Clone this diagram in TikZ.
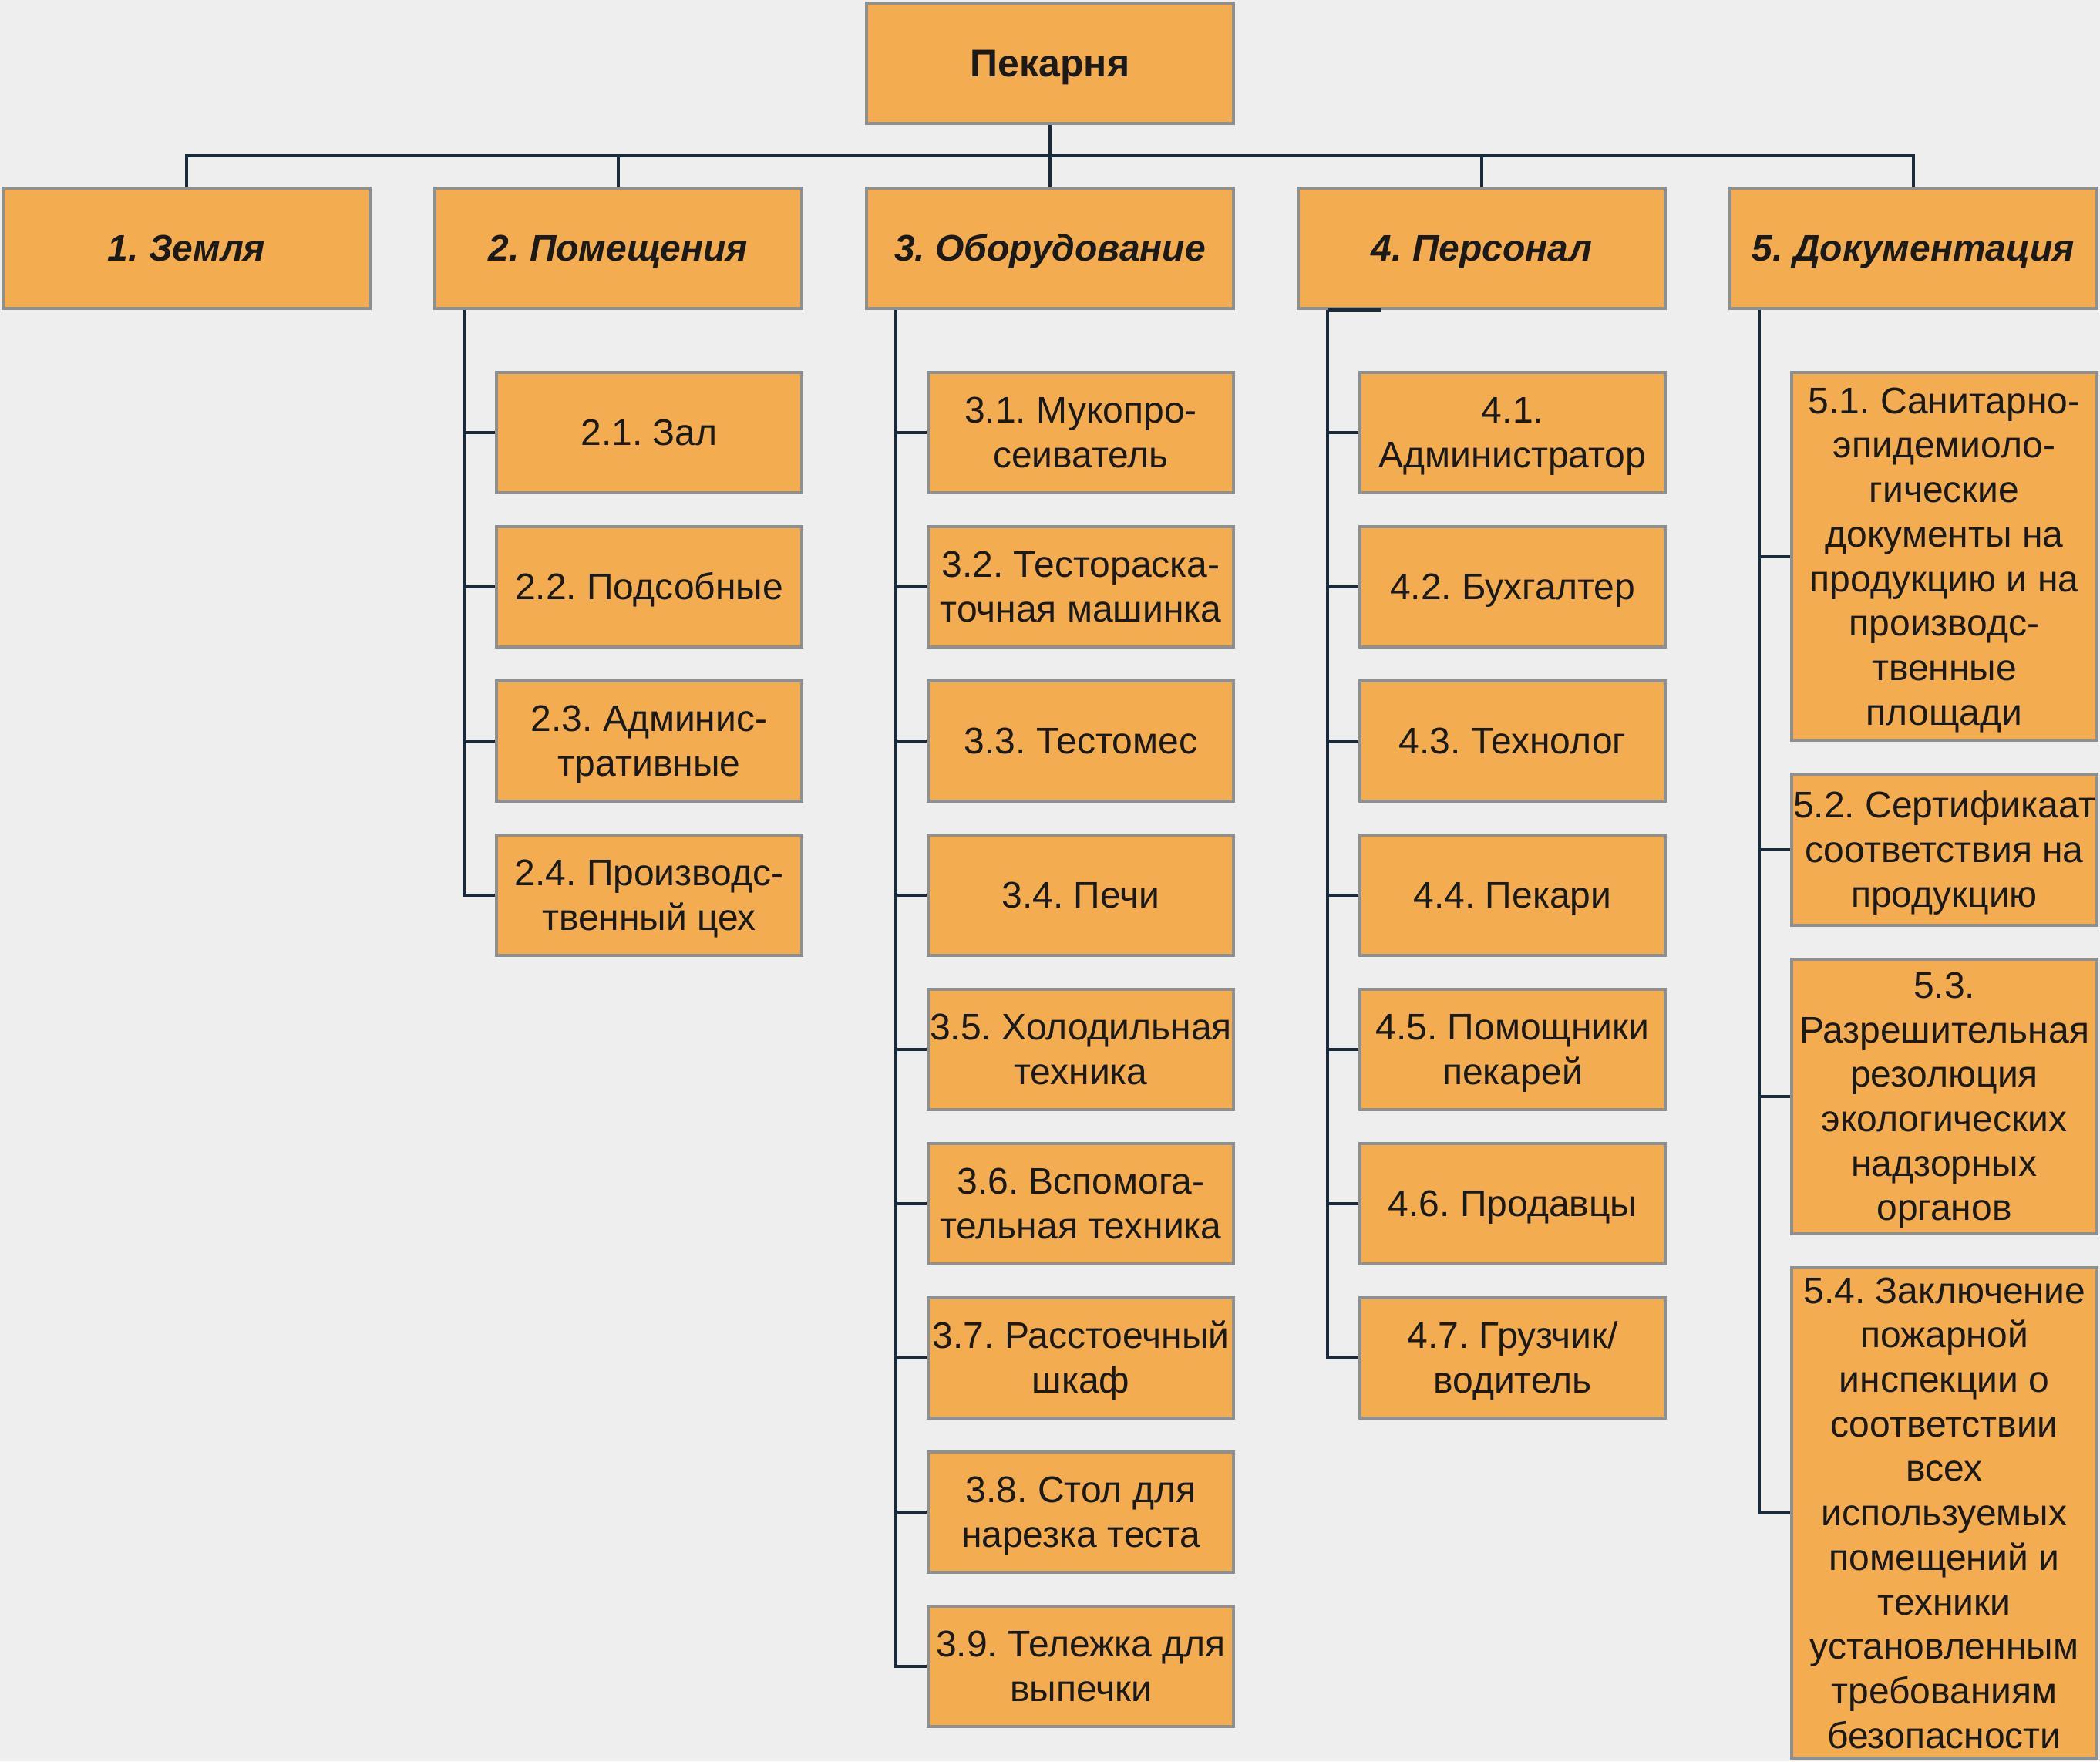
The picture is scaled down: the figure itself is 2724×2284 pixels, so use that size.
\documentclass[tikz,border=0pt]{standalone}
\usepackage{fontspec}
\setmainfont{Liberation Sans}
\definecolor{bg}{RGB}{238,238,238}
\definecolor{boxfill}{RGB}{244,172,80}
\definecolor{boxline}{RGB}{143,143,143}
\definecolor{connc}{RGB}{27,42,58}
\definecolor{txt}{RGB}{26,26,26}
\newcommand{\lstr}{\rule[-0.254em]{0pt}{1.202em}}
\begin{document}
\frenchspacing
\begin{tikzpicture}[x=1pt,y=-1pt,
  box/.style={draw=boxline, line width=4pt, fill=boxfill, text=txt, align=center,
    inner sep=0pt, font=\fontsize{48}{57.7}\selectfont\frenchspacing,
    execute at end node=\lstr},
  headbox/.style={box, minimum width=476pt, minimum height=156pt,
    font=\fontsize{48}{57.7}\selectfont\frenchspacing\bfseries\itshape},
  rootbox/.style={box, minimum width=476pt, minimum height=156pt,
    font=\fontsize{50}{60}\selectfont\bfseries},
  kidbox/.style={box, minimum width=396pt, minimum height=156pt},
  conn/.style={draw=connc, line width=4pt}]
\useasboundingbox (0,0) rectangle (2724,2284);
\fill[bg] (0,0) rectangle (2724,2284);

% root and level 1
\node[rootbox] (root) at (1362,82) {Пекарня};
\node[headbox] (L1) at (242,321.5) {1. Земля};
\node[headbox] (L2) at (802,321.5) {2. Помещения};
\node[headbox] (L3) at (1362,321.5) {3. Оборудование};
\node[headbox] (L4) at (1922,321.5) {4. Персонал};
\node[headbox] (L5) at (2482,321.5) {5. Документация};

% column 2
\node[kidbox] (c21) at (842,561) {2.1. Зал};
\node[kidbox] (c22) at (842,761) {2.2. Подсобные};
\node[kidbox] (c23) at (842,961) {\lstr 2.3. Админис-\\тративные};
\node[kidbox] (c24) at (842,1161) {\lstr 2.4. Производс-\\твенный цех};

% column 3
\node[kidbox] (c31) at (1402,561) {\lstr 3.1. Мукопро-\\сеиватель};
\node[kidbox] (c32) at (1402,761) {\lstr 3.2. Тестораска-\\точная машинка};
\node[kidbox] (c33) at (1402,961) {3.3. Тестомес};
\node[kidbox] (c34) at (1402,1161) {3.4. Печи};
\node[kidbox] (c35) at (1402,1361) {\lstr 3.5. Холодильная\\техника};
\node[kidbox] (c36) at (1402,1561) {\lstr 3.6. Вспомога-\\тельная техника};
\node[kidbox] (c37) at (1402,1761) {\lstr 3.7. Расстоечный\\шкаф};
\node[kidbox] (c38) at (1402,1961) {\lstr 3.8. Стол для\\нарезка теста};
\node[kidbox] (c39) at (1402,2161) {\lstr 3.9. Тележка для\\выпечки};

% column 4
\node[kidbox] (c41) at (1962,561) {\lstr 4.1.\\Администратор};
\node[kidbox] (c42) at (1962,761) {4.2. Бухгалтер};
\node[kidbox] (c43) at (1962,961) {4.3. Технолог};
\node[kidbox] (c44) at (1962,1161) {4.4. Пекари};
\node[kidbox] (c45) at (1962,1361) {\lstr 4.5. Помощники\\пекарей};
\node[kidbox] (c46) at (1962,1561) {4.6. Продавцы};
\node[kidbox] (c47) at (1962,1761) {\lstr 4.7. Грузчик/\\водитель};

% column 5
\node[kidbox, minimum height=477pt] (c51) at (2522,721.5) {\lstr 5.1. Санитарно-\\эпидемиоло-\\гические\\документы на\\продукцию и на\\производс-\\твенные\\площади};
\node[kidbox, minimum height=196pt] (c52) at (2522,1102) {\lstr 5.2. Сертификаат\\соответствия на\\продукцию};
\node[kidbox, minimum height=356pt] (c53) at (2522,1422) {\lstr 5.3.\\Разрешительная\\резолюция\\экологических\\надзорных\\органов};
\node[kidbox, minimum height=636pt] (c54) at (2522,1962) {\lstr 5.4. Заключение\\пожарной\\инспекции о\\соответствии\\всех\\используемых\\помещений и\\техники\\установленным\\требованиям\\безопасности};

% connectors: root to level 1
\draw[conn] (L1.north) -- ++(0,-40) -| (L5.north);
\draw[conn] (root.south) -- (L3.north);
\draw[conn] (L2.north) -- ++(0,-40);
\draw[conn] (L4.north) -- ++(0,-40);

% column 2 connectors
\draw[conn] ([xshift=-200pt]L2.south) |- (c24.west);
\foreach \k in {1,2,3} \draw[conn] (c2\k.west) -- ++(-40,0);

% column 3 connectors
\draw[conn] ([xshift=-200pt]L3.south) |- (c39.west);
\foreach \k in {1,...,8} \draw[conn] (c3\k.west) -- ++(-40,0);

% column 4 connectors
\draw[conn] ([xshift=-200pt]L4.south) |- (c47.west);
\draw[conn] ([xshift=-200pt]L4.south) -- ++(70,0);
\foreach \k in {1,...,6} \draw[conn] (c4\k.west) -- ++(-40,0);

% column 5 connectors
\draw[conn] ([xshift=-200pt]L5.south) |- (c54.west);
\foreach \k in {1,2,3} \draw[conn] (c5\k.west) -- ++(-40,0);
\end{tikzpicture}
\end{document}
